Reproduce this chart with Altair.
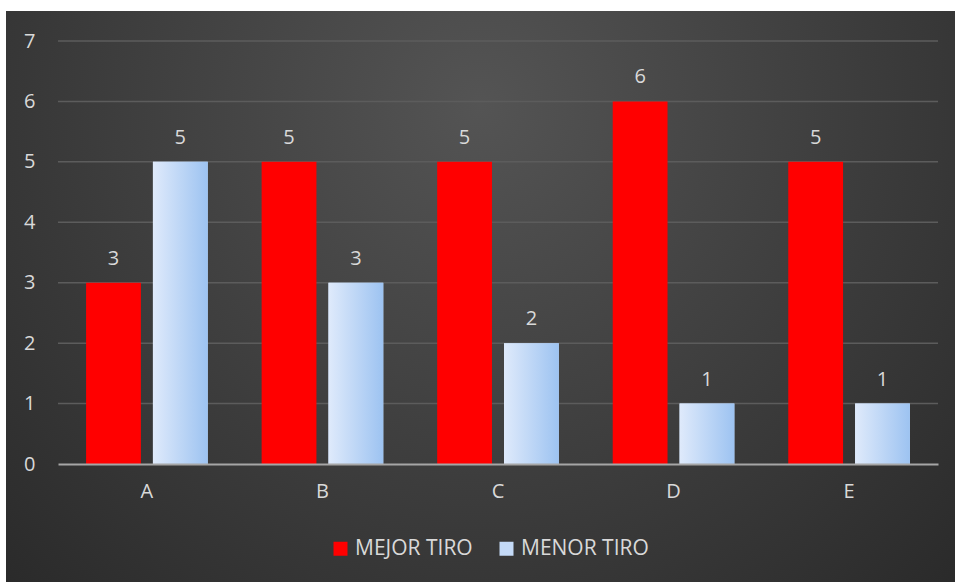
import altair as alt
import pandas as pd

categories = ["A", "B", "C", "D", "E"]
series_names = ["MEJOR TIRO", "MENOR TIRO"]
mejor_tiro = [3, 5, 5, 6, 5]
menor_tiro = [5, 3, 2, 1, 1]
y_ticks = [1, 2, 3, 4, 5, 6, 7]

rows = []
for c, a, b in zip(categories, mejor_tiro, menor_tiro):
    rows.append({"cat": c, "serie": series_names[0], "val": a})
    rows.append({"cat": c, "serie": series_names[1], "val": b})
df = pd.DataFrame(rows)

W, H = 880, 423
FONT = "Open Sans"
TXT = "#d9d9d9"

bg_grad = alt.RadialGradient(
    gradient="radial", x1=0.5, y1=0.3, r1=0, x2=0.5, y2=0.3, r2=0.8,
    stops=[alt.GradientStop(offset=0, color="#545454"),
           alt.GradientStop(offset=1, color="#252525")])
blue_grad = alt.LinearGradient(
    gradient="linear", x1=0, y1=0, x2=1, y2=0,
    stops=[alt.GradientStop(offset=0, color="#dfeafb"),
           alt.GradientStop(offset=1, color="#9dc3f1")])

x_enc = alt.X("cat:N", sort=categories, title=None,
              scale=alt.Scale(paddingInner=0.307, paddingOuter=0.16),
              axis=alt.Axis(labelAngle=0, labelFont=FONT, labelFontSize=20,
                            labelColor=TXT, labelPadding=17, ticks=False,
                            domain=True, domainColor="#a6a6a6", domainWidth=2,
                            grid=False, zindex=1))
y_scale = alt.Scale(domain=[0, 7], nice=False)
y_enc = alt.Y("val:Q", scale=y_scale, title=None,
              axis=alt.Axis(values=[0, 1, 2, 3, 4, 5, 6, 7], format="d",
                            labelFont=FONT, labelFontSize=20, labelColor=TXT,
                            labelPadding=23, ticks=False, domain=False,
                            grid=False, zindex=1))
xo = alt.XOffset("serie:N", sort=series_names, scale=alt.Scale(paddingInner=0.18))

bg = alt.Chart(alt.Data(values=[{}])).mark_rect(fill=bg_grad).encode(
    x=alt.value(-52), x2=alt.value(W + 17), y=alt.value(-30), y2=alt.value(H + 118))

grid = alt.Chart(pd.DataFrame({"t": y_ticks})).mark_rule(
    color="#5c5c5c", strokeWidth=1.5).encode(
    y=alt.Y("t:Q", scale=y_scale), x=alt.value(0), x2=alt.value(W))

legend = alt.Legend(
    title=None, orient="none", legendX=272, legendY=497, direction="horizontal",
    symbolType="square", symbolSize=196, symbolStrokeWidth=0,
    labelFont=FONT, labelFontSize=21, labelColor=TXT, columnPadding=23,
    labelOffset=4, zindex=1)

bars = alt.Chart(df).mark_bar().encode(
    x=x_enc, y=y_enc, xOffset=xo,
    color=alt.Color("serie:N", sort=series_names,
                    scale=alt.Scale(domain=series_names, range=["#ff0000", "#c4daf7"]),
                    legend=legend))

blue_bars = alt.Chart(df).transform_filter(
    alt.datum.serie == "MENOR TIRO").mark_bar(fill=blue_grad).encode(
    x=alt.X("cat:N", sort=categories), y=alt.Y("val:Q", scale=y_scale), xOffset=xo)

labels = alt.Chart(df).mark_text(
    font=FONT, fontSize=20, color=TXT, baseline="alphabetic", dy=-18).encode(
    x=alt.X("cat:N", sort=categories), y=alt.Y("val:Q", scale=y_scale), xOffset=xo,
    text="val:Q")

chart = alt.layer(bg, grid, bars, blue_bars, labels).properties(
    width=W, height=H,
    autosize=alt.AutoSizeParams(type="none"),
    padding={"left": 58, "top": 41, "right": 17, "bottom": 118},
    background="white",
).configure_view(stroke=None)

chart.save("out.html", embed_options={"renderer": "svg", "actions": False})
